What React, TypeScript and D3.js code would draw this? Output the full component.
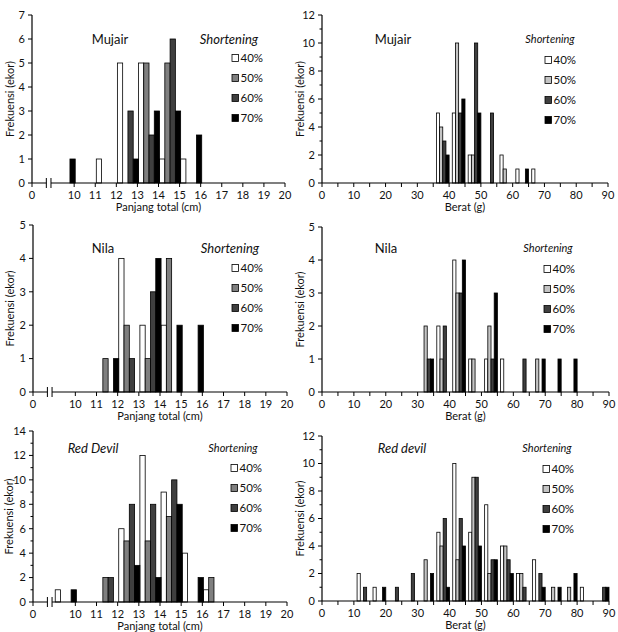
import React from "react";
import * as d3 from "d3";

const seriesNames = ["40%", "50%", "60%", "70%"];
const lengthColors = ["#ffffff", "#7f7f7f", "#3f3f3f", "#000000"];
const weightColors = ["#ffffff", "#c4c4c4", "#3f3f3f", "#000000"];

// bins (start value of each bin)
const lengthBins = [9, 10, 11, 12, 13, 14, 15, 16];
const weightBins = [10, 15, 20, 25, 30, 35, 40, 45, 50, 55, 60, 65, 70, 75, 80, 85];

// tick values (8 on the broken length axis is labelled "0")
const lengthTicks = [8, 10, 11, 12, 13, 14, 15, 16, 17, 18, 19, 20];
const weightMajorTicks = [0, 10, 20, 30, 40, 50, 60, 70, 80, 90];
const weightMinorTicks = [5, 15, 25, 35, 45, 55, 65, 75, 85];

// Mujair – panjang total
const mujairLen40 = [0, 0, 1, 5, 5, 1, 1, 0];
const mujairLen50 = [0, 0, 0, 0, 5, 5, 0, 0];
const mujairLen60 = [0, 0, 0, 3, 2, 6, 0, 0];
const mujairLen70 = [1, 0, 0, 1, 3, 3, 2, 0];

// Nila – panjang total
const nilaLen40 = [0, 0, 0, 4, 2, 2, 0, 0];
const nilaLen50 = [0, 0, 1, 2, 1, 4, 0, 0];
const nilaLen60 = [0, 0, 0, 1, 3, 0, 0, 0];
const nilaLen70 = [0, 0, 1, 0, 4, 2, 2, 0];

// Red Devil – panjang total
const redLen40 = [1, 0, 0, 6, 12, 9, 4, 1];
const redLen50 = [0, 0, 2, 5, 5, 7, 0, 2];
const redLen60 = [0, 0, 2, 8, 8, 10, 0, 0];
const redLen70 = [1, 0, 0, 3, 2, 8, 2, 0];

// Mujair – berat
const mujairW40 = [0, 0, 0, 0, 0, 5, 5, 2, 0, 2, 1, 1, 0, 0, 0, 0];
const mujairW50 = [0, 0, 0, 0, 0, 4, 10, 2, 0, 1, 0, 0, 0, 0, 0, 0];
const mujairW60 = [0, 0, 0, 0, 0, 3, 5, 10, 5, 0, 0, 0, 0, 0, 0, 0];
const mujairW70 = [0, 0, 0, 0, 0, 2, 6, 5, 0, 0, 1, 0, 0, 0, 0, 0];

// Nila – berat
const nilaW40 = [0, 0, 0, 0, 0, 2, 4, 1, 1, 1, 0, 0, 0, 0, 0, 0];
const nilaW50 = [0, 0, 0, 0, 2, 1, 3, 1, 2, 0, 0, 1, 0, 0, 0, 0];
const nilaW60 = [0, 0, 0, 0, 1, 2, 3, 0, 1, 0, 1, 0, 0, 0, 0, 0];
const nilaW70 = [0, 0, 0, 0, 1, 0, 4, 0, 3, 0, 0, 1, 1, 1, 0, 0];

// Red devil – berat
const redW40 = [2, 1, 0, 0, 0, 5, 10, 5, 7, 4, 2, 3, 0, 0, 1, 0];
const redW50 = [0, 0, 0, 0, 3, 4, 3, 9, 2, 4, 2, 0, 1, 1, 0, 0];
const redW60 = [1, 0, 1, 2, 0, 6, 6, 9, 3, 3, 1, 2, 0, 0, 0, 1];
const redW70 = [0, 1, 0, 0, 2, 1, 4, 4, 3, 2, 0, 1, 1, 2, 0, 1];

const FONT = "Lato, 'Open Sans', sans-serif";

type PanelCfg = {
  kind: "length" | "weight";
  title: string;
  titleItalic: boolean;
  series: number[][];
  yMax: number;
  yStep: number;
  left: number;
  right: number;
  top: number;
  bottom: number;
  titleX: number;
  titleY: number;
  shortX: number;
  shortSize: number;
  legendX: number;
  legendY: number;
  yTitleX: number;
};

const panels: PanelCfg[] = [
  {
    kind: "length", title: "Mujair", titleItalic: false,
    series: [mujairLen40, mujairLen50, mujairLen60, mujairLen70],
    yMax: 7, yStep: 1, left: 32, right: 285, top: 15, bottom: 183,
    titleX: 110, titleY: 39, shortX: 229, shortSize: 13, legendX: 232, legendY: 58, yTitleX: 10,
  },
  {
    kind: "weight", title: "Mujair", titleItalic: false,
    series: [mujairW40, mujairW50, mujairW60, mujairW70],
    yMax: 12, yStep: 2, left: 322, right: 608, top: 15, bottom: 183,
    titleX: 393, titleY: 39, shortX: 550, shortSize: 11, legendX: 545, legendY: 60, yTitleX: 300,
  },
  {
    kind: "length", title: "Nila", titleItalic: false,
    series: [nilaLen40, nilaLen50, nilaLen60, nilaLen70],
    yMax: 5, yStep: 1, left: 33, right: 287, top: 225, bottom: 392,
    titleX: 103, titleY: 248, shortX: 230, shortSize: 13, legendX: 232, legendY: 268, yTitleX: 10,
  },
  {
    kind: "weight", title: "Nila", titleItalic: false,
    series: [nilaW40, nilaW50, nilaW60, nilaW70],
    yMax: 5, yStep: 1, left: 322, right: 609, top: 227, bottom: 392,
    titleX: 386, titleY: 248, shortX: 548, shortSize: 11, legendX: 544, legendY: 269, yTitleX: 300,
  },
  {
    kind: "length", title: "Red Devil", titleItalic: true,
    series: [redLen40, redLen50, redLen60, redLen70],
    yMax: 14, yStep: 2, left: 33, right: 287, top: 431, bottom: 602,
    titleX: 93, titleY: 448, shortX: 233, shortSize: 11, legendX: 231, legendY: 468, yTitleX: 9,
  },
  {
    kind: "weight", title: "Red devil", titleItalic: true,
    series: [redW40, redW50, redW60, redW70],
    yMax: 12, yStep: 2, left: 322, right: 609, top: 436, bottom: 601,
    titleX: 402, titleY: 448, shortX: 547, shortSize: 11, legendX: 543, legendY: 469, yTitleX: 300,
  },
];

function Panel({ cfg }: { cfg: PanelCfg }) {
  const isLen = cfg.kind === "length";
  const bins = isLen ? lengthBins : weightBins;
  const colors = isLen ? lengthColors : weightColors;
  const x = d3
    .scaleLinear()
    .domain(isLen ? [8, 20] : [0, 90])
    .range([cfg.left, cfg.right]);
  const y = d3.scaleLinear().domain([0, cfg.yMax]).range([cfg.bottom, cfg.top]);
  const barW = isLen ? 0.25 : 1;
  const barOff = isLen ? 0.05 : 1;

  const majorY = d3.range(0, cfg.yMax + 0.001, cfg.yStep);
  const minorY = cfg.yStep === 2 ? d3.range(1, cfg.yMax, 2) : [];

  const bars: JSX.Element[] = [];
  cfg.series.forEach((vals, si) => {
    vals.forEach((v, bi) => {
      if (v <= 0) return;
      const x0 = bins[bi] + barOff + si * barW;
      bars.push(
        <rect
          key={`${si}-${bi}`}
          x={x(x0)}
          y={y(v)}
          width={x(x0 + barW) - x(x0)}
          height={y(0) - y(v)}
          fill={colors[si]}
          stroke="#000"
          strokeWidth={0.8}
        />
      );
    });
  });

  const xTitle = isLen ? "Panjang total (cm)" : "Berat (g)";
  const midY = (cfg.top + cfg.bottom) / 2;
  const midX = (cfg.left + cfg.right) / 2;

  return (
    <g fontFamily={FONT} fill="#111">
      {bars}
      {/* y axis */}
      <line x1={cfg.left} x2={cfg.left} y1={cfg.bottom} y2={cfg.top} stroke="#000" strokeWidth={1.2} />
      {majorY.map((t) => (
        <g key={`ym${t}`}>
          <line x1={cfg.left - 4} x2={cfg.left} y1={y(t)} y2={y(t)} stroke="#000" />
          <text x={cfg.left - 7} y={y(t)} dy="0.35em" textAnchor="end" fontSize={11}>
            {t}
          </text>
        </g>
      ))}
      {minorY.map((t) => (
        <line key={`yn${t}`} x1={cfg.left - 2.5} x2={cfg.left} y1={y(t)} y2={y(t)} stroke="#000" />
      ))}
      {/* x axis */}
      <line x1={cfg.left} x2={cfg.right} y1={cfg.bottom} y2={cfg.bottom} stroke="#000" strokeWidth={1.2} />
      {isLen
        ? lengthTicks.map((t) => (
            <g key={`xt${t}`}>
              <line x1={x(t)} x2={x(t)} y1={cfg.bottom} y2={cfg.bottom + 4} stroke="#000" />
              <text x={x(t)} y={cfg.bottom + 12} dy="0.35em" textAnchor="middle" fontSize={11}>
                {t === 8 ? "0" : t}
              </text>
            </g>
          ))
        : weightMajorTicks.map((t) => (
            <g key={`xt${t}`}>
              <line x1={x(t)} x2={x(t)} y1={cfg.bottom} y2={cfg.bottom + 4} stroke="#000" />
              <text x={x(t)} y={cfg.bottom + 12} dy="0.35em" textAnchor="middle" fontSize={11}>
                {t}
              </text>
            </g>
          ))}
      {!isLen &&
        weightMinorTicks.map((t) => (
          <line key={`xn${t}`} x1={x(t)} x2={x(t)} y1={cfg.bottom} y2={cfg.bottom + 4} stroke="#000" />
        ))}
      {isLen && (
        <g>
          <rect x={x(8.68)} y={cfg.bottom - 2} width={x(8.9) - x(8.68)} height={4} fill="#fff" />
          <line x1={x(8.68)} x2={x(8.68)} y1={cfg.bottom - 5} y2={cfg.bottom + 5} stroke="#000" />
          <line x1={x(8.9)} x2={x(8.9)} y1={cfg.bottom - 5} y2={cfg.bottom + 5} stroke="#000" />
        </g>
      )}
      <text x={midX} y={cfg.bottom + 24} dy="0.35em" textAnchor="middle" fontSize={11}>
        {xTitle}
      </text>
      <text
        transform={`translate(${cfg.yTitleX},${midY}) rotate(-90)`}
        dy="0.35em"
        textAnchor="middle"
        fontSize={11}
      >
        Frekuensi (ekor)
      </text>
      {/* titles */}
      <text
        x={cfg.titleX}
        y={cfg.titleY}
        dy="0.35em"
        textAnchor="middle"
        fontSize={13}
        fontStyle={cfg.titleItalic ? "italic" : "normal"}
      >
        {cfg.title}
      </text>
      <text x={cfg.shortX} y={cfg.titleY} dy="0.35em" textAnchor="middle" fontSize={cfg.shortSize} fontStyle="italic">
        Shortening
      </text>
      {/* legend */}
      {seriesNames.map((s, i) => (
        <g key={s}>
          <rect
            x={cfg.legendX}
            y={cfg.legendY + i * 20 - 3.5}
            width={6.5}
            height={7}
            fill={colors[i]}
            stroke="#000"
            strokeWidth={0.8}
          />
          <text x={cfg.legendX + 8.5} y={cfg.legendY + i * 20} dy="0.35em" fontSize={11.5}>
            {s}
          </text>
        </g>
      ))}
    </g>
  );
}

export default function App() {
  return (
    <svg
      width={618}
      height={632}
      style={{ position: "absolute", left: 0, top: 0, background: "#fff" }}
    >
      <rect width={618} height={632} fill="#fff" />
      {panels.map((p, i) => (
        <Panel key={i} cfg={p} />
      ))}
    </svg>
  );
}
